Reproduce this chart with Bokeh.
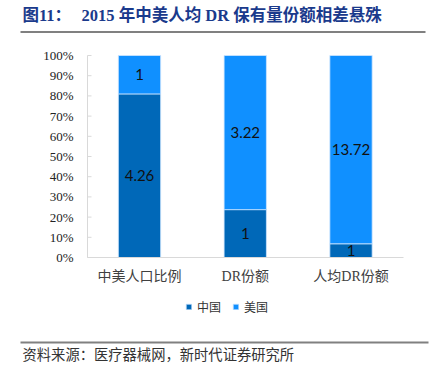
from bokeh.plotting import figure
from bokeh.models import ColumnDataSource, Legend, LegendItem, Range1d
from bokeh.embed import file_html
from bokeh.resources import INLINE
from bokeh.core.properties import value

categories = ["中美人口比例", "DR份额", "人均DR份额"]
china = [4.26, 1, 1]
usa = [1, 3.22, 13.72]
series_names = ["中国", "美国"]
y_ticks = [0, 0.1, 0.2, 0.3, 0.4, 0.5, 0.6, 0.7, 0.8, 0.9, 1.0]
y_tick_labels = ["0%", "10%", "20%", "30%", "40%", "50%", "60%", "70%", "80%", "90%", "100%"]
title_prefix = "图11："
title_text = "2015 年中美人均 DR 保有量份额相差悬殊"
source_text = "资料来源：医疗器械网，新时代证券研究所"

# ---- layout constants (pixel positions of the chart pieces on a 431x369 canvas)
W, H = 431, 369
PX_X = 105.75          # pixels per category
CX0 = 139              # pixel centre of first category
PY0, PY1 = 257, 55     # pixel rows of 0% and 100%


def xd(px):
    return (px - CX0) / PX_X


def yd(py):
    return (PY0 - py) / (PY0 - PY1)


xs = list(range(len(categories)))
china_pct = [c / (c + u) for c, u in zip(china, usa)]
usa_pct = [u / (c + u) for c, u in zip(china, usa)]

src = ColumnDataSource(dict(
    x=xs, cat=categories, cn=china_pct, us=usa_pct,
    cn_mid=[p / 2 for p in china_pct],
    us_mid=[c + u / 2 for c, u in zip(china_pct, usa_pct)],
    cn_lab=[f"{v:g}" for v in china], us_lab=[f"{v:g}" for v in usa],
))

C_CN = "#0068B8"
C_US = "#1090FF"
SERIF = "Liberation Serif, Noto Sans CJK SC"
AX = "#d9d9d9"

p = figure(width=W, height=H, x_range=Range1d(xd(0), xd(W)), y_range=Range1d(yd(H), yd(0)),
           x_axis_type=None, y_axis_type=None, output_backend="svg", toolbar_location=None,
           min_border=0)
p.outline_line_color = None
p.grid.visible = False

# bars
r = p.vbar_stack(["cn", "us"], x="x", width=0.40, source=src, color=[C_CN, C_US],
                 line_color="#cfe6ff", line_width=0.8)
p.text(x="x", y="cn_mid", text="cn_lab", source=src, text_align="center",
       text_baseline="middle", text_font=value("Lato"), text_font_size="15px",
       text_color="#111111")
p.text(x="x", y="us_mid", text="us_lab", source=src, text_align="center",
       text_baseline="middle", text_font=value("Lato"), text_font_size="15px",
       text_color="#111111")

# y axis
p.segment(x0=xd(87), y0=0, x1=xd(87), y1=1, line_color=AX, line_width=1)
p.segment(x0=[xd(87)] * len(y_ticks), y0=y_ticks, x1=[xd(91)] * len(y_ticks), y1=y_ticks,
          line_color=AX, line_width=1)
p.text(x=[xd(73)] * len(y_ticks), y=y_ticks, text=y_tick_labels, text_align="right",
       text_baseline="middle", text_font=value("Liberation Serif"), text_font_size="13px",
       text_color="#222222")

# x axis
p.segment(x0=xd(87), y0=0, x1=xd(403), y1=0, line_color=AX, line_width=1)
p.text(x="x", y=yd(276), text="cat", source=src, text_align="center",
       text_baseline="middle", text_font=value(SERIF), text_font_size="14px",
       text_color="#404040")

# legend
legend = Legend(items=[LegendItem(label=series_names[0], renderers=[r[0]]),
                       LegendItem(label=series_names[1], renderers=[r[1]])],
                orientation="horizontal", location=(185, 54), background_fill_alpha=0,
                border_line_color=None, glyph_width=7, glyph_height=7, spacing=11,
                label_text_font="Noto Sans CJK SC", label_text_font_size="12px",
                label_text_color="#333333", label_standoff=5, padding=0, margin=0)
p.add_layout(legend)

# title and rules
p.text(x=[xd(22), xd(81)], y=[yd(15), yd(15)], text=[title_prefix, title_text],
       text_baseline="middle", text_font=value(SERIF), text_font_style="bold",
       text_font_size="16.5px", text_color="#1A3A8C")
p.segment(x0=xd(20), y0=yd(31.5), x1=xd(425), y1=yd(31.5), line_color="#808080", line_width=2)
p.segment(x0=xd(20), y0=yd(342), x1=xd(428), y1=yd(342), line_color="#808080", line_width=2)
p.text(x=[xd(22)], y=[yd(353)], text=[source_text], text_baseline="middle",
       text_font=value("Noto Sans CJK SC"), text_font_size="14.3px", text_color="#333333")

open("out.html", "w").write(file_html(p, INLINE))
